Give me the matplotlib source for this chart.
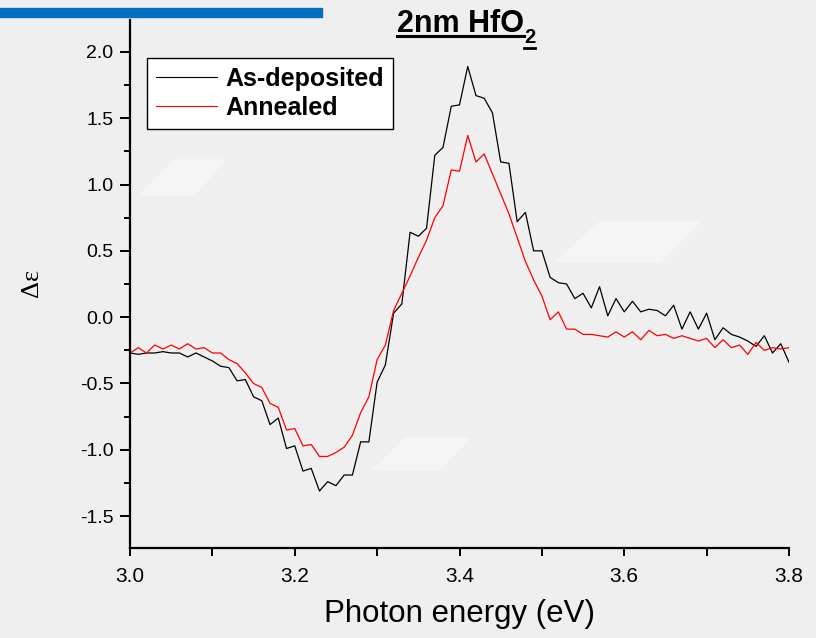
import numpy as np
import matplotlib
matplotlib.use("Agg")
import matplotlib.pyplot as plt
from matplotlib.lines import Line2D
from matplotlib.patches import Rectangle, Polygon
from matplotlib.ticker import MultipleLocator, FormatStrFormatter

# ---- data ----
energy = np.linspace(3.0, 3.8, 81)  # photon energy grid, 0.01 eV steps

as_deposited = [
    -0.27, -0.28, -0.27, -0.27, -0.26, -0.27, -0.27, -0.30, -0.27, -0.30,
    -0.33, -0.37, -0.38, -0.48, -0.47, -0.60, -0.63, -0.81, -0.76, -0.99,
    -0.97, -1.16, -1.14, -1.31, -1.24, -1.27, -1.19, -1.19, -0.94, -0.94,
    -0.49, -0.36, 0.03, 0.10, 0.64, 0.61, 0.67, 1.22, 1.28, 1.59,
    1.60, 1.89, 1.67, 1.65, 1.54, 1.17, 1.16, 0.72, 0.79, 0.50,
    0.50, 0.30, 0.26, 0.25, 0.14, 0.18, 0.07, 0.23, 0.01, 0.14,
    0.04, 0.12, 0.04, 0.06, 0.05, 0.01, 0.09, -0.09, 0.04, -0.09,
    0.03, -0.17, -0.08, -0.13, -0.15, -0.18, -0.22, -0.14, -0.27, -0.20,
    -0.34,
]

annealed = [
    -0.27, -0.23, -0.27, -0.21, -0.24, -0.21, -0.24, -0.20, -0.24, -0.23,
    -0.27, -0.27, -0.32, -0.35, -0.42, -0.50, -0.53, -0.65, -0.68, -0.85,
    -0.84, -0.97, -0.96, -1.05, -1.05, -1.02, -0.98, -0.89, -0.72, -0.60,
    -0.32, -0.21, 0.05, 0.18, 0.31, 0.45, 0.58, 0.75, 0.84, 1.11,
    1.10, 1.37, 1.17, 1.23, 1.08, 0.93, 0.78, 0.60, 0.42, 0.28,
    0.16, -0.02, 0.04, -0.09, -0.09, -0.13, -0.13, -0.14, -0.15, -0.11,
    -0.15, -0.11, -0.17, -0.10, -0.14, -0.13, -0.16, -0.14, -0.16, -0.18,
    -0.16, -0.23, -0.17, -0.23, -0.21, -0.28, -0.19, -0.25, -0.23, -0.24,
    -0.23,
]

labels = ["As-deposited", "Annealed"]
title_main = "2nm HfO"
title_sub = "2"

# ---- figure ----
plt.rcParams["font.family"] = ["Liberation Sans", "DejaVu Sans"]

W, H = 816, 638
fig = plt.figure(figsize=(W / 100, H / 100), dpi=100, facecolor="#efefef")

def px(x, y):
    # pixel position (from top-left) -> figure fraction
    return (x / W, 1 - y / H)

# faint lighter tiles of the slide background
for pts in [[(140, 195), (175, 160), (225, 160), (195, 195)],
            [(555, 262), (600, 222), (700, 222), (660, 262)],
            [(372, 470), (405, 438), (470, 438), (440, 470)]]:
    fig.patches.append(Polygon([px(*p) for p in pts], closed=True,
                               transform=fig.transFigure, color="#f5f5f5",
                               zorder=0))

# blue bar in the top-left corner (slide decoration)
fig.patches.append(Rectangle(px(0, 17), 322 / W, 9 / H,
                             transform=fig.transFigure, color="#0070c0",
                             zorder=0))

ax = fig.add_axes([130 / W, 1 - 548 / H, (789 - 130) / W, (548 - 20) / H])
ax.set_facecolor("none")

ax.plot(energy, as_deposited, color="black", lw=0.9, label=labels[0])
ax.plot(energy, annealed, color="red", lw=0.9, label=labels[1])

ax.set_xlim(3.0, 3.8)
ax.set_ylim(-1.74, 2.24)
ax.xaxis.set_major_locator(MultipleLocator(0.2))
ax.xaxis.set_minor_locator(MultipleLocator(0.1))
ax.yaxis.set_major_locator(MultipleLocator(0.5))
ax.yaxis.set_minor_locator(MultipleLocator(0.25))
ax.xaxis.set_major_formatter(FormatStrFormatter("%.1f"))
ax.yaxis.set_major_formatter(FormatStrFormatter("%.1f"))

for s in ["top", "right"]:
    ax.spines[s].set_visible(False)
for s in ["left", "bottom"]:
    ax.spines[s].set_linewidth(1.6)

ax.tick_params(axis="y", which="major", direction="out", length=7,
               width=1.4, labelsize=14, pad=5)
ax.tick_params(axis="y", which="minor", direction="out", length=4,
               width=1.4)
ax.tick_params(axis="x", which="both", direction="out", length=6, width=1.4)
ax.tick_params(axis="x", which="major", labelsize=15, pad=8)

leg = ax.legend(loc="upper left", bbox_to_anchor=px(147, 58),
                bbox_transform=fig.transFigure, frameon=True, fancybox=False,
                edgecolor="black", facecolor="white", framealpha=1,
                prop={"weight": "bold", "size": 18}, handlelength=2.45,
                handletextpad=0.35, borderpad=0.35, labelspacing=0.2,
                borderaxespad=0)
leg.get_frame().set_linewidth(1.0)
for h in leg.get_lines():
    h.set_linewidth(0.8)

fig.text(*px(459, 614), "Photon energy (eV)", ha="center",
         va="center", fontsize=22.5)
fig.text(*px(32, 283), "Δε", ha="center", va="center",
         rotation=90, fontsize=19, family=["Liberation Serif", "DejaVu Serif"])

# underlined title: main text plus a lowered subscript, each underlined
t1 = fig.text(*px(397, 32), title_main, ha="left", va="baseline",
              fontsize=22, weight="bold")
fig.canvas.draw()
r = fig.canvas.get_renderer()
bb1 = t1.get_window_extent(r)
t2 = fig.text(bb1.x1 / W, 1 - 43 / H, title_sub, ha="left", va="baseline",
              fontsize=14.5, weight="bold")
fig.canvas.draw()
bb2 = t2.get_window_extent(r)
fig.add_artist(Line2D([bb1.x0 / W, bb1.x1 / W], [1 - 36 / H, 1 - 36 / H],
                      color="black", lw=2.2, transform=fig.transFigure))
fig.add_artist(Line2D([bb2.x0 / W, bb2.x1 / W], [1 - 47.5 / H, 1 - 47.5 / H],
                      color="black", lw=2.0, transform=fig.transFigure))

fig.savefig("out.png", dpi=100, facecolor=fig.get_facecolor())
